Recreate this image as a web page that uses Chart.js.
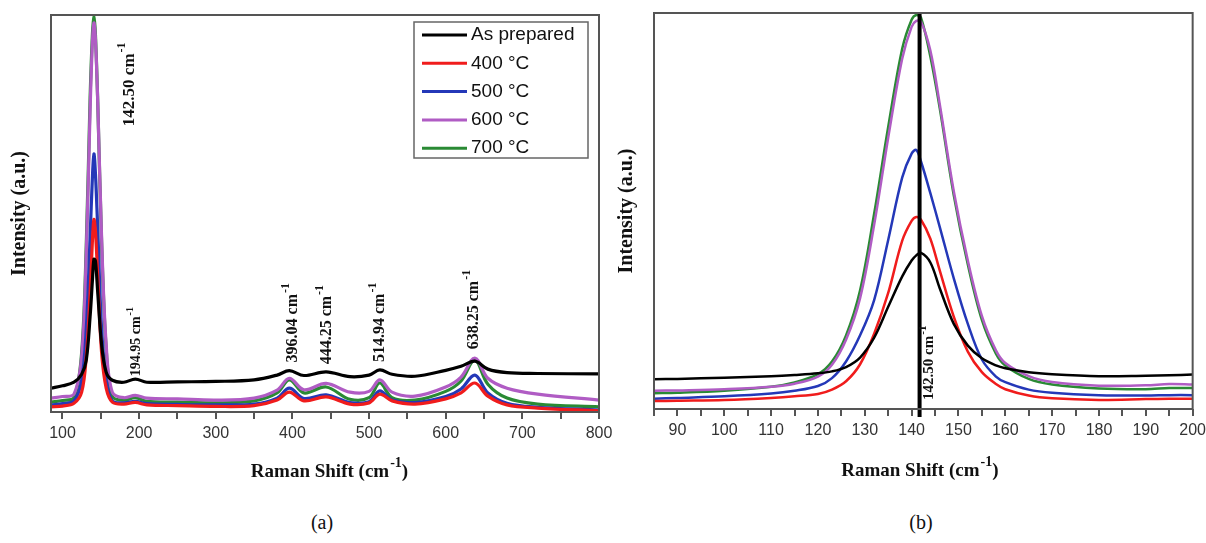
<!DOCTYPE html>
<html>
<head>
<meta charset="utf-8">
<title>Raman spectra</title>
<script src="https://cdn.jsdelivr.net/npm/chart.js@4.4.1/dist/chart.umd.min.js"></script>
<style>
  html, body { margin: 0; padding: 0; background: #fff; }
  body { width: 1206px; height: 543px; position: relative; overflow: hidden; }
  canvas { position: absolute; top: 0; }
  #chartA { left: 0; }
  #chartB { left: 606px; }
  .caption {
    position: absolute; top: 511px; width: 60px; text-align: center;
    font: 20px 'Liberation Serif', 'Times New Roman', serif; color: #111;
  }
</style>
</head>
<body>
<canvas id="chartA" width="640" height="490"></canvas>
<canvas id="chartB" width="605" height="490"></canvas>
<div class="caption" style="left:292px">(a)</div>
<div class="caption" style="left:891px">(b)</div>

<script>
// --- Data ---
const seriesLabels = ['As prepared', '400 °C', '500 °C', '600 °C', '700 °C'];
const seriesColors = ['#000000', '#f01c1c', '#2438b8', '#b05cc4', '#2a8a34'];

// panel (a): full spectrum
const shiftA = [85, 100, 115, 125, 131, 136, 139, 141, 143, 146, 151, 157, 165, 180, 195, 210, 250, 300, 350, 380, 396, 415, 444, 475, 500, 514, 530, 560, 600, 620, 638, 655, 680, 720, 800];
const asPreparedA = [6.0, 6.6, 7.5, 9.5, 13, 24, 33, 38.5, 38, 30, 17, 10, 8.0, 7.5, 8.3, 7.5, 7.6, 7.7, 8.1, 9.3, 10.4, 9.2, 10.1, 8.9, 9.3, 10.6, 9.5, 9.0, 10.5, 11.5, 12.8, 10.8, 9.9, 9.7, 9.6];
const t400A = [1.3, 1.5, 2.2, 5, 14, 30, 43, 48.5, 45.5, 34, 15, 6, 2.5, 2.0, 2.4, 1.8, 1.6, 1.4, 1.6, 3.0, 5.0, 2.8, 3.8, 2.0, 2.3, 4.5, 2.8, 2.0, 3.3, 4.8, 7.3, 4.0, 1.8, 1.0, 0.3];
const t500A = [1.8, 2.1, 2.8, 8, 21, 44, 59, 65, 60, 46, 21, 8, 2.8, 2.3, 2.7, 2.1, 1.9, 1.8, 2.0, 3.5, 6.0, 3.4, 4.3, 2.4, 2.6, 5.3, 3.0, 2.4, 3.9, 5.8, 9.3, 4.8, 2.2, 1.2, 0.5];
const t600A = [3.5, 3.9, 4.5, 14, 40, 76, 93, 98, 94, 78, 44, 17, 5.0, 3.6, 4.2, 3.5, 3.3, 3.0, 3.5, 5.5, 8.5, 5.6, 7.2, 5.0, 5.2, 8.1, 5.0, 4.0, 6.3, 8.8, 13.6, 8.5, 6.0, 4.5, 3.0];
const t700A = [2.5, 2.9, 3.6, 15, 42, 79, 95, 100, 95, 78, 43, 16, 3.9, 3.0, 3.6, 2.7, 2.5, 2.3, 2.8, 4.8, 8.1, 4.8, 6.3, 3.2, 3.6, 7.3, 3.6, 3.0, 5.2, 7.8, 13.1, 7.0, 3.5, 2.0, 1.3];
const tickLabelsA = [100, 200, 300, 400, 500, 600, 700, 800];

// panel (b): zoom on the Eg mode
const shiftB = [85, 90, 100, 110, 115, 120, 123, 126, 129, 132, 135, 138, 140, 141, 142, 144, 146, 149, 152, 155, 158, 160, 165, 170, 180, 190, 195, 200];
const asPreparedB = [7.5, 7.6, 7.9, 8.3, 8.6, 9.0, 9.5, 10.6, 13.0, 18.0, 25.8, 33.5, 37.5, 38.8, 39.4, 37.0, 30.5, 21.5, 16.0, 12.8, 11.0, 10.3, 9.3, 8.8, 8.3, 8.4, 8.5, 8.7];
const t400B = [2.0, 2.1, 2.3, 2.8, 3.2, 3.8, 4.9, 7.0, 11.3, 19, 29.3, 42.5, 47.5, 48.5, 47.8, 43, 35, 23.3, 14.5, 9.3, 6.3, 5.0, 3.4, 2.7, 2.3, 2.5, 2.6, 2.6];
const t500B = [2.6, 2.8, 3.2, 3.9, 4.6, 5.8, 7.8, 12, 18.6, 27.5, 42.7, 58.5, 64.5, 65.4, 62.5, 54.5, 46, 33, 21.5, 12.5, 8.2, 6.8, 4.9, 4.1, 3.5, 3.4, 3.5, 3.5];
const t600B = [4.6, 4.7, 5.0, 5.6, 6.4, 8.2, 11.2, 17.5, 28, 46.5, 68.5, 88.5, 96.5, 98, 97.8, 90.5, 77, 55, 37.5, 23.5, 14.8, 11.6, 8.3, 6.8, 5.9, 6.0, 6.3, 6.2];
const t700B = [4.0, 4.1, 4.6, 5.6, 6.7, 8.8, 12.0, 18.6, 30, 49.3, 71.2, 91, 98.3, 99.5, 98.8, 89, 76, 54, 36.5, 22.5, 14, 11, 7.6, 6.2, 5.2, 5.0, 5.3, 5.3];
const tickLabelsB = [90, 100, 110, 120, 130, 140, 150, 160, 170, 180, 190, 200];
const markerShiftB = 141.7;
const markerSpanB = [-2, 100];

const AXIS_COLOR = '#555';
const SERIF = "'Liberation Serif', 'Times New Roman', serif";
const SANS = "'Liberation Sans', Arial, sans-serif";

// --- Helpers ---
function points(xs, ys) {
    return xs.map((x, i) => ({ x, y: ys[i] }));
}

// draws "base" + raised "sup" + "post", optionally rotated to read bottom-to-top
function drawSupText(ctx, x, y, parts, size, rotated, centered) {
    const baseFont = `bold ${size}px ${SERIF}`;
    const supFont = `bold ${Math.round(size * 0.72)}px ${SERIF}`;
    ctx.save();
    ctx.translate(x, y);
    if (rotated) ctx.rotate(-Math.PI / 2);
    ctx.fillStyle = '#111';
    ctx.textBaseline = 'middle';
    ctx.textAlign = 'left';
    ctx.font = baseFont;
    const wBase = ctx.measureText(parts.base).width;
    const wPost = parts.post ? ctx.measureText(parts.post).width : 0;
    ctx.font = supFont;
    const wSup = ctx.measureText(parts.sup).width;
    let cx = centered ? -(wBase + wSup + wPost) / 2 : 0;
    ctx.font = baseFont;
    ctx.fillText(parts.base, cx, 0);
    cx += wBase + 1;
    ctx.font = supFont;
    ctx.fillText(parts.sup, cx, -size * 0.45);
    cx += wSup;
    if (parts.post) {
        ctx.font = baseFont;
        ctx.fillText(parts.post, cx, 0);
    }
    ctx.restore();
}

// --- Plugins ---
const framePlugin = {
    id: 'frame',
    afterDatasetsDraw(chart) {
        const { ctx, chartArea: a } = chart;
        ctx.save();
        ctx.strokeStyle = AXIS_COLOR;
        ctx.lineWidth = 2;
        ctx.strokeRect(a.left, a.top, a.right - a.left, a.bottom - a.top);
        ctx.restore();
    }
};

const xTitlePlugin = {
    id: 'xTitle',
    afterDraw(chart, args, opts) {
        const a = chart.chartArea;
        drawSupText(chart.ctx, (a.left + a.right) / 2 + opts.shift, a.bottom + opts.offset,
            { base: 'Raman Shift (cm', sup: '-1', post: ')' }, 19, false, true);
    }
};

const peakLabelsPlugin = {
    id: 'peakLabels',
    afterDraw(chart, args, opts) {
        const xs = chart.scales.x, ys = chart.scales.y;
        (opts.items || []).forEach(it => {
            drawSupText(chart.ctx, xs.getPixelForValue(it.x), ys.getPixelForValue(it.y),
                { base: it.text, sup: '-1' }, it.size, true, false);
        });
    }
};

const legendBoxPlugin = {
    id: 'legendBox',
    afterDraw(chart, args, opts) {
        if (!opts.display) return;
        const { ctx, chartArea: a } = chart;
        const items = chart.data.datasets.filter(d => d.label);
        const w = 174, h = 136, rowH = 28.3;
        const right = a.right - 11, top = a.top + 7, left = right - w;
        ctx.save();
        ctx.fillStyle = '#fff';
        ctx.fillRect(left, top, w, h);
        ctx.strokeStyle = '#666';
        ctx.lineWidth = 1.5;
        ctx.strokeRect(left, top, w, h);
        ctx.font = `19px ${SANS}`;
        ctx.textBaseline = 'middle';
        items.forEach((d, i) => {
            const y = top + 13 + i * rowH;
            ctx.strokeStyle = d.borderColor;
            ctx.lineWidth = 3;
            ctx.beginPath();
            ctx.moveTo(left + 8, y);
            ctx.lineTo(left + 53, y);
            ctx.stroke();
            ctx.fillStyle = '#111';
            ctx.fillText(d.label, left + 57, y);
        });
        ctx.restore();
    }
};

// --- Chart setup ---
function seriesSets(xs, seriesList, width) {
    return seriesList.map((ys, i) => ({
        label: seriesLabels[i],
        data: points(xs, ys),
        borderColor: seriesColors[i],
        borderWidth: width,
        pointRadius: 0,
        tension: 0.35,
        fill: false
    }));
}

function scaleOptions(min, max, step, labels, yAxisWidth, xAxisHeight) {
    return {
        x: {
            type: 'linear', min, max,
            border: { display: false },
            grid: { drawOnChartArea: false, drawTicks: true, tickLength: 7, color: AXIS_COLOR, lineWidth: 2 },
            ticks: {
                stepSize: step, includeBounds: false, autoSkip: false, maxRotation: 0, padding: 5,
                color: '#333', font: { family: SANS, size: 16 },
                callback: v => (labels.includes(v) ? String(v) : '')
            },
            afterFit: s => { s.height = xAxisHeight; }
        },
        y: {
            min: 0, max: 100,
            border: { display: false },
            grid: { display: false },
            ticks: { display: false },
            title: {
                display: true, text: 'Intensity (a.u.)', color: '#111', padding: 0,
                font: { family: SERIF, size: 20, weight: 'bold', lineHeight: 1.2 }
            },
            afterFit: s => { s.width = yAxisWidth; }
        }
    };
}

document.addEventListener('DOMContentLoaded', () => {
    // panel (a)
    new Chart(document.getElementById('chartA'), {
        type: 'line',
        data: { datasets: seriesSets(shiftA, [asPreparedA, t400A, t500A, t600A, t700A], 3.2) },
        options: {
            responsive: false, animation: false, devicePixelRatio: 1,
            layout: { padding: { left: 8, top: 15, right: 41, bottom: 0 } },
            scales: scaleOptions(85, 800, 50, tickLabelsA, 43, 78),
            plugins: {
                legend: { display: false },
                tooltip: { enabled: false },
                legendBox: { display: true },
                xTitle: { offset: 60, shift: 4 },
                peakLabels: {
                    items: [
                        { text: '142.50 cm', x: 188, y: 72, size: 17 },
                        { text: '194.95 cm', x: 197, y: 9, size: 14 },
                        { text: '396.04 cm', x: 401, y: 12.5, size: 16 },
                        { text: '444.25 cm', x: 445, y: 12, size: 16 },
                        { text: '514.94 cm', x: 514, y: 12.6, size: 16 },
                        { text: '638.25 cm', x: 637, y: 15.8, size: 16 }
                    ]
                }
            }
        },
        plugins: [framePlugin, xTitlePlugin, peakLabelsPlugin, legendBoxPlugin]
    });

    // panel (b)
    const setsB = seriesSets(shiftB, [asPreparedB, t400B, t500B, t600B, t700B], 2.5);
    setsB.unshift({
        label: '',
        data: markerSpanB.map(y => ({ x: markerShiftB, y })),
        borderColor: '#000',
        borderWidth: 4,
        pointRadius: 0,
        clip: false
    });

    new Chart(document.getElementById('chartB'), {
        type: 'line',
        data: { datasets: setsB },
        options: {
            responsive: false, animation: false, devicePixelRatio: 1,
            layout: { padding: { left: 9, top: 13, right: 9, bottom: 0 } },
            scales: scaleOptions(85, 200, 5, tickLabelsB, 39, 81),
            plugins: {
                legend: { display: false },
                tooltip: { enabled: false },
                legendBox: { display: false },
                xTitle: { offset: 62, shift: -4 },
                peakLabels: {
                    items: [{ text: '142.50 cm', x: 143.8, y: 2.3, size: 15 }]
                }
            }
        },
        plugins: [framePlugin, xTitlePlugin, peakLabelsPlugin, legendBoxPlugin]
    });
});
</script>
</body>
</html>
